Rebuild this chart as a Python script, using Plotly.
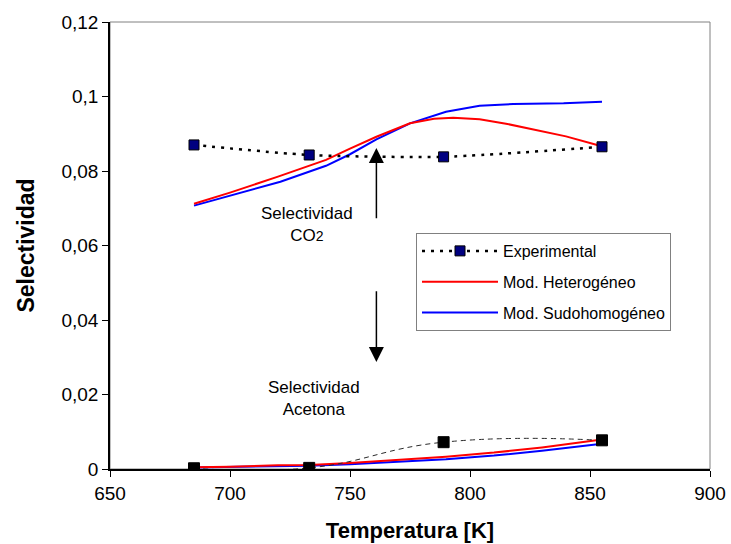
import plotly.graph_objects as go

# Experimental selectivities
t_exp = [685, 733, 789, 855]
sel_co2_exp = [0.0870, 0.0843, 0.0838, 0.0865]
sel_acet_exp = [0.0002, 0.0003, 0.0072, 0.0077]

# Heterogeneous model, CO2
t_het = [685, 700, 720, 740, 750, 761, 775, 785, 793, 804, 815, 826, 840, 853]
sel_co2_het = [0.0712, 0.0742, 0.0785, 0.0830, 0.0860, 0.0892, 0.0928, 0.0940,
               0.0943, 0.0939, 0.0927, 0.0912, 0.0893, 0.0870]

# Pseudo-homogeneous model, CO2
t_sud = [685, 700, 721, 740, 750, 761, 775, 790, 804, 818, 839, 855]
sel_co2_sud = [0.0707, 0.0733, 0.0771, 0.0814, 0.0845, 0.0885, 0.0928, 0.0959,
               0.0975, 0.0980, 0.0982, 0.0986]

# Models, acetone
t_acet_mod = [685, 700, 720, 733, 750, 770, 790, 810, 830, 855]
sel_acet_het = [0.0005, 0.0006, 0.0010, 0.0011, 0.0016, 0.0024, 0.0033, 0.0044, 0.0058, 0.0079]
sel_acet_sud = [0.0004, 0.0005, 0.0008, 0.0009, 0.0013, 0.0019, 0.0026, 0.0036, 0.0049, 0.0068]

# Arrow positions (temperature, selectivity)
arrow_t = 761
arrow_up = (0.0669, 0.0862)
arrow_down = (0.0481, 0.0287)

FONT = "Liberation Sans, Arial, sans-serif"

fig = go.Figure()

fig.add_trace(go.Scatter(
    x=t_acet_mod, y=sel_acet_sud, mode="lines", name="Mod. Sudohomogéneo",
    line=dict(color="#0000FF", width=2), showlegend=False))
fig.add_trace(go.Scatter(
    x=t_acet_mod, y=sel_acet_het, mode="lines", name="Mod. Heterogéneo",
    line=dict(color="#FF0000", width=2), showlegend=False))
fig.add_trace(go.Scatter(
    x=t_exp, y=sel_acet_exp, mode="lines+markers", name="Experimental",
    line=dict(color="#2a2a2a", width=1, dash="5px,4px", shape="spline", smoothing=1.3),
    marker=dict(symbol="square", size=11, color="black", line=dict(color="black", width=1)),
    showlegend=False))

fig.add_trace(go.Scatter(
    x=t_sud, y=sel_co2_sud, mode="lines", name="Mod. Sudohomogéneo",
    line=dict(color="#0000FF", width=2), legendrank=3, legendgroup="c"))
fig.add_trace(go.Scatter(
    x=t_het, y=sel_co2_het, mode="lines", name="Mod. Heterogéneo",
    line=dict(color="#FF0000", width=2), legendrank=2, legendgroup="b"))
fig.add_trace(go.Scatter(
    x=t_exp, y=sel_co2_exp, mode="lines+markers", name="Experimental",
    line=dict(color="black", width=2.5, dash="3px,6px", shape="spline", smoothing=0.6),
    marker=dict(symbol="square", size=10, color="#000080", line=dict(color="black", width=1)),
    legendrank=1, legendgroup="a"))

# plot-area frame (grey), axes drawn on top in black
fig.add_shape(type="rect", xref="paper", yref="paper", x0=0, y0=0, x1=1, y1=1,
              line=dict(color="#808080", width=1), layer="below")

arrow_style = dict(showarrow=True, arrowhead=2, arrowsize=2, arrowwidth=1.5,
                   arrowcolor="black", axref="x", ayref="y", text="", standoff=0)
fig.add_annotation(x=arrow_t, y=arrow_up[1], ax=arrow_t, ay=arrow_up[0], **arrow_style)
fig.add_annotation(x=arrow_t, y=arrow_down[1], ax=arrow_t, ay=arrow_down[0], **arrow_style)

fig.add_annotation(x=732, y=0.0656, xref="x", yref="y", showarrow=False,
                   text="Selectividad<br>CO<span style='font-size:14px'>2</span>",
                   font=dict(family=FONT, size=17, color="black"), align="center")
fig.add_annotation(x=735, y=0.0190, xref="x", yref="y", showarrow=False,
                   text="Selectividad<br>Acetona",
                   font=dict(family=FONT, size=17, color="black"), align="center")

fig.update_layout(
    width=731, height=544,
    margin=dict(l=110, r=21, t=22, b=75),
    paper_bgcolor="white", plot_bgcolor="white",
    separators=",.",
    font=dict(family=FONT, color="black"),
    showlegend=True,
    legend=dict(x=0.51, y=0.528, xanchor="left", yanchor="top",
                bordercolor="#808080", borderwidth=1, bgcolor="white",
                font=dict(family=FONT, size=16, color="black"),
                itemwidth=76, tracegroupgap=7),
    xaxis=dict(range=[650, 900], dtick=50, tick0=650, showgrid=False, zeroline=False,
               automargin=False,
               showline=True, linecolor="black", linewidth=1.5,
               ticks="outside", ticklen=6, tickcolor="black",
               tickfont=dict(family=FONT, size=19, color="black"),
               title=dict(text="<b>Temperatura [K]</b>", standoff=20,
                          font=dict(family=FONT, size=22, color="black"))),
    yaxis=dict(range=[0, 0.12], dtick=0.02, showgrid=False, zeroline=False,
               automargin=False,
               showline=True, linecolor="black", linewidth=1.5,
               ticks="outside", ticklen=6, tickcolor="black",
               tickfont=dict(family=FONT, size=19, color="black"),
               title=dict(text="<b>Selectividad</b>", standoff=20,
                          font=dict(family=FONT, size=23, color="black"))),
)

fig.write_html("out.html")
